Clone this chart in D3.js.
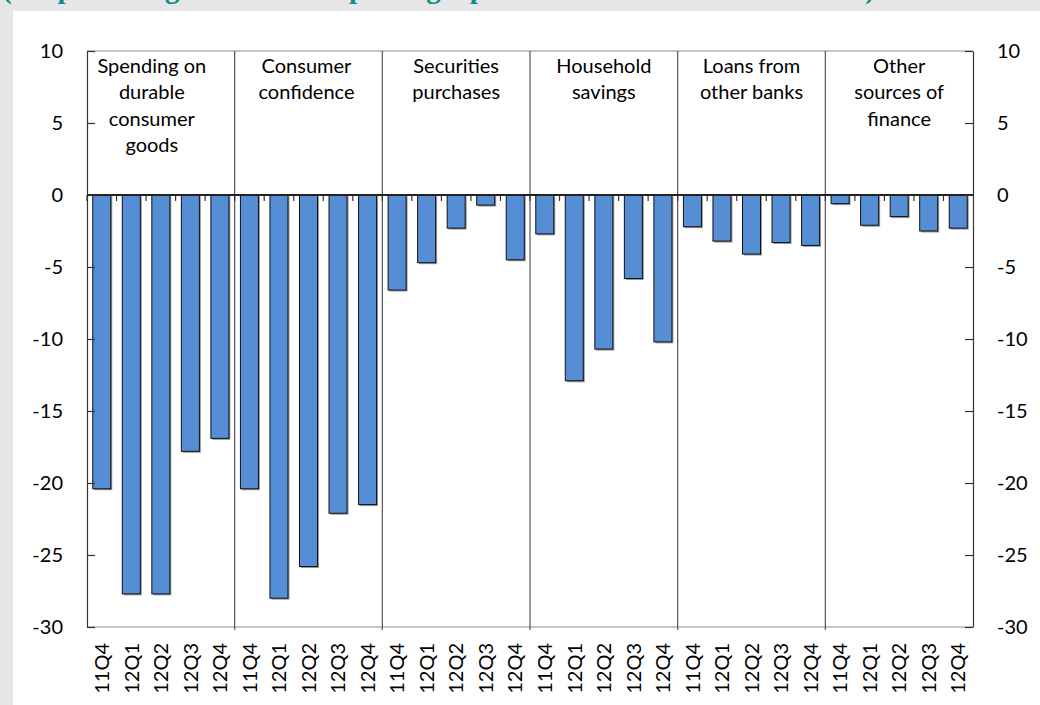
<!DOCTYPE html>
<html>
<head>
<meta charset="utf-8">
<script src="https://cdn.jsdelivr.net/npm/d3@7"></script>
<style>
  html, body { margin: 0; padding: 0; background: #e6e6e6; }
  svg { display: block; }
</style>
</head>
<body>
<svg id="chart" width="1040" height="705"></svg>
<script>
// ---- data ----
const title = "(net percentages of banks reporting a positive contribution to demand)";
const quarters = ["11Q4", "12Q1", "12Q2", "12Q3", "12Q4"];
const groupLabels = [
  ["Spending on", "durable", "consumer", "goods"],
  ["Consumer", "confidence"],
  ["Securities", "purchases"],
  ["Household", "savings"],
  ["Loans from", "other banks"],
  ["Other", "sources of", "finance"]
];
const spendingDurable = [-20.4, -27.7, -27.7, -17.8, -16.9];
const consumerConfidence = [-20.4, -28.0, -25.8, -22.1, -21.5];
const securitiesPurchases = [-6.6, -4.7, -2.3, -0.7, -4.5];
const householdSavings = [-2.7, -12.9, -10.7, -5.8, -10.2];
const loansOtherBanks = [-2.2, -3.2, -4.1, -3.3, -3.5];
const otherFinance = [-0.6, -2.1, -1.5, -2.5, -2.3];
const yTicks = [10, 5, 0, -5, -10, -15, -20, -25, -30];

const seriesList = [spendingDurable, consumerConfidence, securitiesPurchases,
                    householdSavings, loansOtherBanks, otherFinance];

// flattened rows
const rows = [];
seriesList.forEach((vals, g) => {
  vals.forEach((v, i) => rows.push({ key: g + "-" + quarters[i], g, q: quarters[i], v }));
});

// ---- layout ----
const svg = d3.select("#chart");
const L = 87, R = 973, T = 51, B = 627;
const FONT = "Lato, 'Open Sans', sans-serif";
const barColor = "#558ed5";

// panel
svg.append("rect").attr("x", 0).attr("y", 0).attr("width", 1040).attr("height", 705).attr("fill", "#e6e6e6");
svg.append("rect").attr("x", 13).attr("y", 11).attr("width", 1027).attr("height", 694).attr("fill", "#ffffff");

// title (cut off at the top, as in the reference)
svg.append("text")
  .attr("x", 2).attr("y", -2.3)
  .attr("font-family", "'Liberation Serif', serif")
  .attr("font-weight", "bold")
  .attr("font-size", 29)
  .attr("fill", "#0e8c8c")
  .text(title);

const x = d3.scaleBand().domain(rows.map(d => d.key)).range([L, R]).paddingInner(0.39).paddingOuter(0.195);
const xEdges = d3.scaleBand().domain(rows.map(d => d.key)).range([L, R]).padding(0);
const y = d3.scaleLinear().domain([-30, 10]).range([B, T]);

// frame (top & bottom)
svg.append("line").attr("x1", L).attr("x2", R).attr("y1", T).attr("y2", T).attr("stroke", "#8c8c8c").attr("stroke-width", 1);
svg.append("line").attr("x1", L).attr("x2", R).attr("y1", B).attr("y2", B).attr("stroke", "#8c8c8c").attr("stroke-width", 1);

// group dividers
svg.append("g").selectAll("line")
  .data(d3.range(1, groupLabels.length))
  .join("line")
  .attr("x1", g => xEdges(g + "-" + quarters[0]))
  .attr("x2", g => xEdges(g + "-" + quarters[0]))
  .attr("y1", T).attr("y2", B + 3)
  .attr("stroke", "#555").attr("stroke-width", 1.2);

// group labels
const labelDx = [-9, -2, 0, 0, 0, 0];
groupLabels.forEach((lines, g) => {
  const cx = xEdges(g + "-" + quarters[2]) + xEdges.bandwidth() / 2 + labelDx[g];
  const t = svg.append("text")
    .attr("font-family", FONT).attr("font-size", 20).attr("fill", "#000")
    .attr("text-anchor", "middle");
  lines.forEach((ln, i) => {
    t.append("tspan").attr("x", cx).attr("y", 73 + i * 26.3).text(ln);
  });
});

// bar shadows
svg.append("g").selectAll("rect")
  .data(rows)
  .join("rect")
  .attr("x", d => x(d.key) + 1.5)
  .attr("y", d => y(Math.max(0, d.v)) + 1.5)
  .attr("width", x.bandwidth())
  .attr("height", d => Math.abs(y(d.v) - y(0)))
  .attr("fill", "#9a9a9a");

// bars
svg.append("g").selectAll("rect")
  .data(rows)
  .join("rect")
  .attr("x", d => x(d.key))
  .attr("y", d => y(Math.max(0, d.v)))
  .attr("width", x.bandwidth())
  .attr("height", d => Math.abs(y(d.v) - y(0)))
  .attr("fill", barColor)
  .attr("stroke", "#111")
  .attr("stroke-width", 1);

// category tick marks below the zero line
svg.append("g").selectAll("line")
  .data(rows)
  .join("line")
  .attr("x1", d => xEdges(d.key)).attr("x2", d => xEdges(d.key))
  .attr("y1", y(0)).attr("y2", y(0) + 6)
  .attr("stroke", "#333").attr("stroke-width", 1.2);

// zero line
svg.append("line").attr("x1", L).attr("x2", R).attr("y1", y(0)).attr("y2", y(0))
  .attr("stroke", "#222").attr("stroke-width", 2);

// y axes
const fmt = d => String(d);
const leftAxis = svg.append("g").attr("transform", `translate(${L},0)`)
  .call(d3.axisLeft(y).tickValues(yTicks).tickFormat(fmt).tickSizeInner(-8).tickSizeOuter(0).tickPadding(24));
const rightAxis = svg.append("g").attr("transform", `translate(${R},0)`)
  .call(d3.axisRight(y).tickValues(yTicks).tickFormat(fmt).tickSizeInner(-8).tickSizeOuter(0).tickPadding(24));
[leftAxis, rightAxis].forEach(a => {
  a.select(".domain").attr("stroke", "#333").attr("stroke-width", 1.2);
  a.selectAll(".tick line").attr("stroke", "#333").attr("stroke-width", 1.2);
  a.selectAll(".tick text").attr("font-family", FONT).attr("font-size", 20).attr("fill", "#000");
});

// x labels (rotated)
svg.append("g").selectAll("text")
  .data(rows)
  .join("text")
  .attr("transform", d => `translate(${xEdges(d.key) + xEdges.bandwidth() / 2},643) rotate(-90)`)
  .attr("dy", "0.36em")
  .attr("text-anchor", "end")
  .attr("font-family", FONT).attr("font-size", 20).attr("fill", "#000")
  .text(d => d.q);
</script>
</body>
</html>
